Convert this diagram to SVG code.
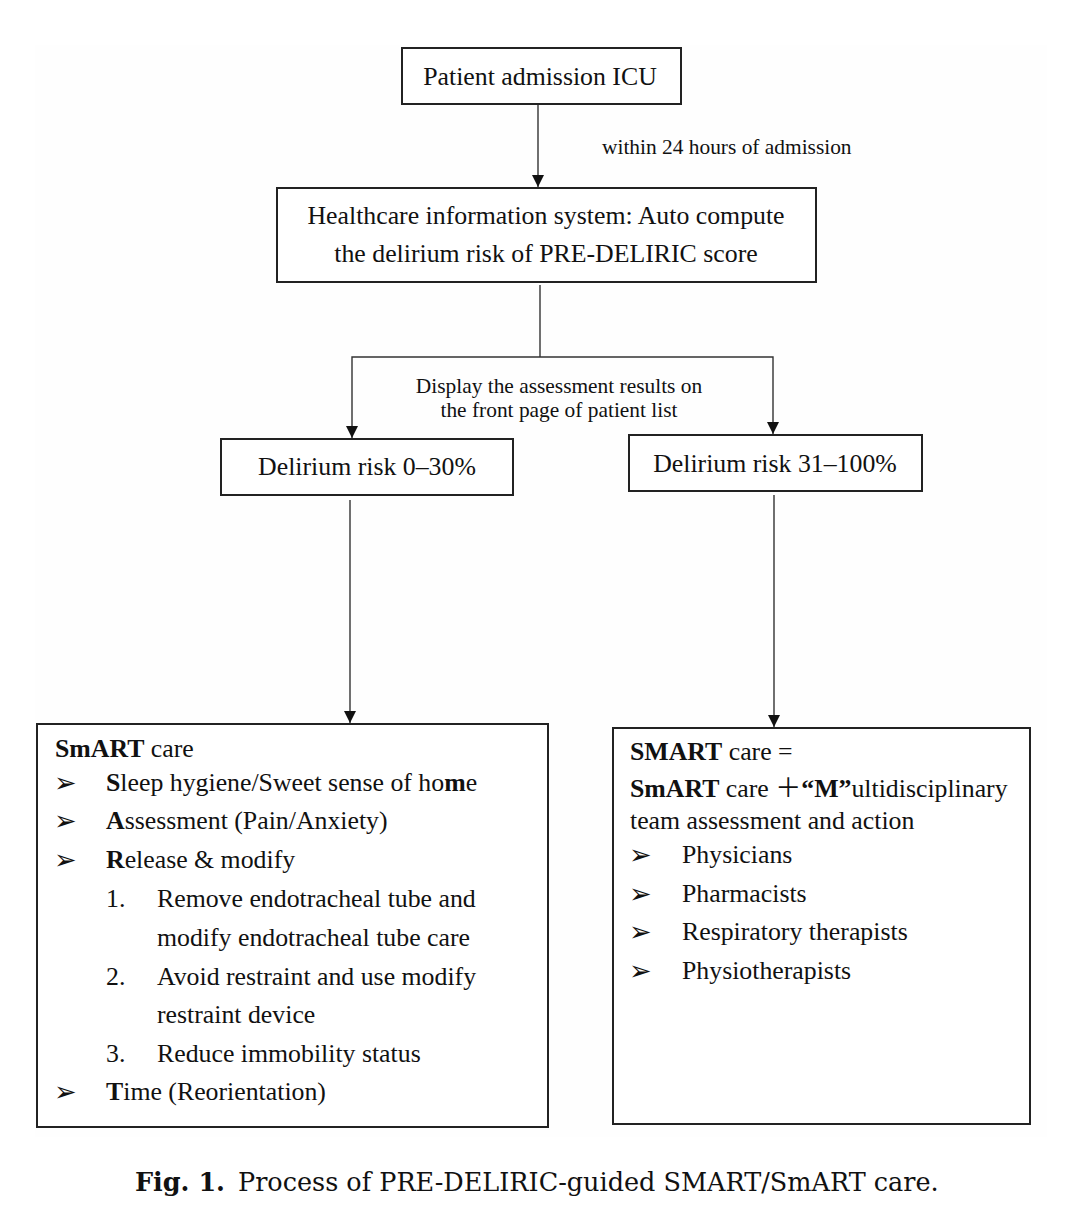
<svg xmlns="http://www.w3.org/2000/svg" width="1079" height="1219" viewBox="0 0 1079 1219">
  <style>
    .box { fill: #ffffff; stroke: #222222; stroke-width: 2; }
    .t { font-family: "Liberation Serif", "Times New Roman", serif; fill: #111111; }
    .main { font-size: 25.8px; }
    .small { font-size: 21.4px; }
    .b { font-weight: bold; }
    .bul { font-family: "DejaVu Sans", sans-serif; font-size: 27px; fill: #111111; }
    .conn { fill: none; stroke: #333333; stroke-width: 1.4; }
    .cap { font-family: "DejaVu Serif", "Liberation Serif", serif; font-size: 25.5px; fill: #111111; }
  </style>
  <defs>
    <marker id="arr" markerUnits="userSpaceOnUse" markerWidth="14" markerHeight="14" viewBox="0 0 14 14" refX="13" refY="7" orient="auto">
      <path d="M1,1 L13,7 L1,13 Z" fill="#111111"/>
    </marker>
  </defs>

  <rect x="35" y="45" width="1012" height="1092" fill="#fefefe"/>

  <g id="connectors">
    <line class="conn" x1="538" y1="105" x2="538" y2="187" marker-end="url(#arr)"/>
    <line class="conn" x1="540" y1="285" x2="540" y2="357"/>
    <path class="conn" d="M540,357 H352 V438" marker-end="url(#arr)"/>
    <path class="conn" d="M540,357 H773 V434" marker-end="url(#arr)"/>
    <line class="conn" x1="350" y1="500" x2="350" y2="723" marker-end="url(#arr)"/>
    <line class="conn" x1="774" y1="495" x2="774" y2="727" marker-end="url(#arr)"/>
    <text class="t small" x="602" y="154">within 24 hours of admission</text>
    <text class="t small" x="559" y="393" text-anchor="middle">Display the assessment results on</text>
    <text class="t small" x="559" y="417" text-anchor="middle">the front page of patient list</text>
  </g>

  <g id="admission">
    <rect class="box" x="402" y="48" width="279" height="56"/>
    <text class="t main" x="540" y="85" text-anchor="middle">Patient admission ICU</text>
  </g>

  <g id="his">
    <rect class="box" x="277" y="188" width="539" height="94"/>
    <text class="t main" x="546" y="224" text-anchor="middle">Healthcare information system: Auto compute</text>
    <text class="t main" x="546" y="262" text-anchor="middle">the delirium risk of PRE-DELIRIC score</text>
  </g>

  <g id="risk-low">
    <rect class="box" x="221" y="439" width="292" height="56"/>
    <text class="t main" x="367" y="475" text-anchor="middle">Delirium risk 0–30%</text>
  </g>

  <g id="risk-high">
    <rect class="box" x="629" y="435" width="293" height="56"/>
    <text class="t main" x="775" y="472" text-anchor="middle">Delirium risk 31–100%</text>
  </g>

  <g id="smart-care-low">
    <rect class="box" x="37" y="724" width="511" height="403"/>
    <text class="t main" x="55" y="757"><tspan class="b">SmART</tspan> care</text>
    <text class="bul" x="54" y="792">➢</text>
    <text class="t main" x="106" y="791"><tspan class="b">S</tspan>leep hygiene/Sweet sense of ho<tspan class="b">m</tspan>e</text>
    <text class="bul" x="54" y="830">➢</text>
    <text class="t main" x="106" y="829"><tspan class="b">A</tspan>ssessment (Pain/Anxiety)</text>
    <text class="bul" x="54" y="869">➢</text>
    <text class="t main" x="106" y="868"><tspan class="b">R</tspan>elease &amp; modify</text>
    <text class="t main" x="106" y="907">1.</text>
    <text class="t main" x="157" y="907">Remove endotracheal tube and</text>
    <text class="t main" x="157" y="946">modify endotracheal tube care</text>
    <text class="t main" x="106" y="985">2.</text>
    <text class="t main" x="157" y="985">Avoid restraint and use modify</text>
    <text class="t main" x="157" y="1023">restraint device</text>
    <text class="t main" x="106" y="1062">3.</text>
    <text class="t main" x="157" y="1062">Reduce immobility status</text>
    <text class="bul" x="54" y="1101">➢</text>
    <text class="t main" x="106" y="1100"><tspan class="b">T</tspan>ime (Reorientation)</text>
  </g>

  <g id="smart-care-high">
    <rect class="box" x="613" y="728" width="417" height="396"/>
    <text class="t main" x="630" y="760"><tspan class="b">SMART</tspan> care =</text>
    <text class="t main" x="630" y="797"><tspan class="b">SmART</tspan> care <tspan font-family="'Noto Sans CJK TC', sans-serif" font-size="26">＋</tspan><tspan class="b">“M”</tspan>ultidisciplinary</text>
    <text class="t main" x="630" y="829">team assessment and action</text>
    <text class="bul" x="629" y="864">➢</text>
    <text class="t main" x="682" y="863">Physicians</text>
    <text class="bul" x="629" y="903">➢</text>
    <text class="t main" x="682" y="902">Pharmacists</text>
    <text class="bul" x="629" y="941">➢</text>
    <text class="t main" x="682" y="940">Respiratory therapists</text>
    <text class="bul" x="629" y="980">➢</text>
    <text class="t main" x="682" y="979">Physiotherapists</text>
  </g>

  <g id="caption">
    <text class="cap" x="135" y="1191" font-weight="bold">Fig. 1.</text>
    <text class="cap" x="238" y="1191">Process of PRE-DELIRIC-guided SMART/SmART care.</text>
  </g>
</svg>
